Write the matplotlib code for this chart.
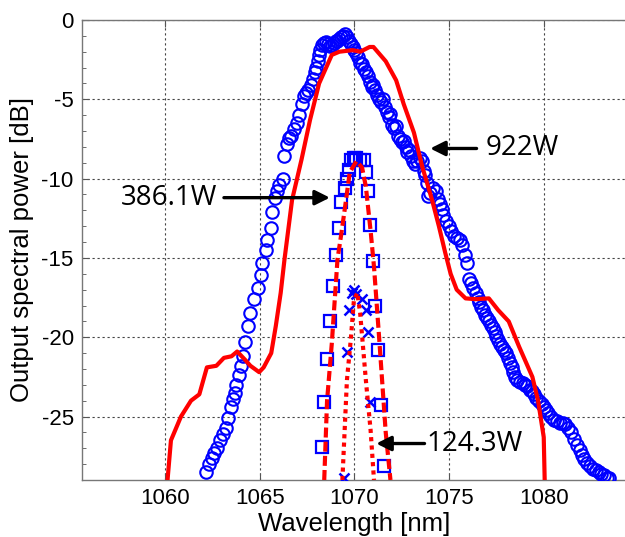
import matplotlib
matplotlib.use("Agg")
import matplotlib.pyplot as plt
from matplotlib.ticker import MultipleLocator

plt.rcParams["axes.unicode_minus"] = False

# ---------------- data ----------------
# 922W measured spectrum (circles)
w922_meas = [1062.15, 1062.3, 1062.45, 1062.6, 1062.75, 1062.9, 1063.05, 1063.2, 1063.34, 1063.47,
             1063.58, 1063.66, 1063.76, 1063.9, 1064.0, 1064.12, 1064.2, 1064.35, 1064.5, 1064.7,
             1064.9, 1065.05, 1065.13, 1065.3, 1065.4, 1065.58, 1065.66, 1065.8, 1065.9, 1066.0,
             1066.2, 1066.3, 1066.45, 1066.55, 1066.65, 1066.8, 1066.95, 1067.07, 1067.24, 1067.35,
             1067.45, 1067.55, 1067.7, 1067.8, 1067.9, 1067.97, 1068.05, 1068.15, 1068.2, 1068.3,
             1068.4, 1068.5, 1068.6, 1068.7, 1068.8, 1068.9, 1069.0, 1069.1, 1069.2, 1069.3,
             1069.4, 1069.5, 1069.6, 1069.7, 1069.8, 1069.9, 1070.0, 1070.1, 1070.2, 1070.3,
             1070.4, 1070.5, 1070.6, 1070.7, 1070.8, 1070.9, 1071.0, 1071.1, 1071.2, 1071.3,
             1071.4, 1071.5, 1071.6, 1071.7, 1071.8, 1071.9, 1072.0, 1072.1, 1072.2, 1072.3,
             1072.4, 1072.5, 1072.6, 1072.7, 1072.8, 1072.9, 1073.0, 1073.1, 1073.2, 1073.3,
             1073.45, 1073.55, 1073.65, 1073.75, 1073.85, 1073.9, 1074.0, 1074.15, 1074.3, 1074.4,
             1074.5, 1074.6, 1074.7, 1074.85, 1075.0, 1075.1, 1075.25, 1075.4, 1075.55, 1075.7,
             1075.85, 1075.96, 1076.05, 1076.15, 1076.25, 1076.4, 1076.5, 1076.6, 1076.7, 1076.8,
             1076.9, 1077.0, 1077.1, 1077.2, 1077.3, 1077.4, 1077.5, 1077.6, 1077.7, 1077.8,
             1077.9, 1078.0, 1078.1, 1078.2, 1078.3, 1078.4, 1078.5, 1078.6, 1078.75, 1078.9,
             1079.0, 1079.1, 1079.25, 1079.4, 1079.5, 1079.6, 1079.75, 1079.9, 1080.0, 1080.1,
             1080.25, 1080.4, 1080.55, 1080.7, 1080.85, 1081.0, 1081.15, 1081.3, 1081.45, 1081.6,
             1081.75, 1081.9, 1082.0, 1082.15, 1082.3, 1082.45, 1082.6, 1082.75, 1082.9, 1083.05,
             1083.2, 1083.35, 1083.45]
p922_meas = [-28.5, -28.0, -27.6, -27.3, -27.0, -26.5, -26.1, -25.7, -25.1, -24.4,
             -23.9, -23.5, -23.0, -22.4, -21.8, -21.2, -20.3, -19.3, -18.5, -17.6,
             -16.9, -16.1, -15.3, -14.5, -13.9, -13.1, -12.1, -11.2, -10.8, -10.4,
             -10.0, -8.6, -7.8, -7.45, -7.3, -6.9, -6.5, -6.0, -5.3, -4.8,
             -4.6, -4.4, -4.1, -3.75, -3.3, -3.0, -2.6, -2.2, -1.9, -1.6,
             -1.45, -1.4, -1.5, -1.65, -1.6, -1.45, -1.35, -1.3, -1.2, -1.1,
             -1.0, -0.9, -1.1, -1.35, -1.5, -1.7, -1.9, -2.1, -2.35, -2.7,
             -2.8, -3.1, -3.3, -3.5, -3.9, -4.2, -4.1, -4.4, -4.7, -5.0,
             -5.2, -5.0, -5.5, -5.8, -6.1, -5.9, -6.6, -6.8, -6.7, -7.3,
             -7.5, -7.7, -7.6, -8.0, -8.3, -8.2, -8.6, -8.9, -9.1, -8.9,
             -8.7, -8.9, -9.5, -9.8, -10.3, -11.1, -10.9, -10.6, -10.8, -11.3,
             -11.6, -11.9, -12.3, -12.7, -13.0, -13.3, -13.6, -13.75, -13.9, -14.2,
             -14.8, -15.3, -16.3, -16.6, -16.9, -17.2, -17.5, -17.8, -18.1, -18.3,
             -18.6, -18.8, -19.0, -19.2, -19.4, -19.7, -19.9, -20.2, -20.4, -20.6,
             -20.8, -21.0, -21.3, -21.6, -21.9, -22.2, -22.5, -22.7, -22.8, -22.9,
             -23.0, -23.1, -23.3, -23.4, -23.6, -23.8, -24.0, -24.2, -24.4, -24.6,
             -24.8, -25.0, -25.2, -25.3, -25.4, -25.4, -25.5, -25.7, -26.0, -26.4,
             -26.8, -27.1, -27.4, -27.7, -27.9, -28.1, -28.3, -28.4, -28.5, -28.6,
             -28.7, -28.85, -28.9]

# 922W simulated spectrum (solid red)
w922_sim = [1060.12, 1060.3, 1060.83, 1061.36, 1061.8, 1062.2, 1062.7, 1063.1, 1063.5, 1063.8,
            1064.2, 1064.5, 1064.96, 1065.2, 1065.6, 1065.84, 1066.1, 1066.3, 1066.7, 1067.2,
            1067.65, 1068.13, 1068.8, 1069.2, 1069.9, 1070.3, 1070.8, 1071.0, 1071.65, 1072.2,
            1072.6, 1073.14, 1073.58, 1074.1, 1074.46, 1074.8, 1075.08, 1075.4, 1075.87, 1076.4,
            1077.1, 1077.6, 1078.15, 1078.7, 1079.4, 1079.7, 1080.0, 1080.05]
p922_sim = [-29.0, -26.5, -25.0, -24.0, -23.6, -21.9, -21.8, -21.3, -21.2, -20.9,
            -21.4, -21.8, -22.2, -21.9, -21.0, -19.3, -17.2, -15.1, -11.35, -8.8,
            -6.3, -4.0, -2.2, -2.0, -1.9, -2.0, -1.7, -1.7, -2.6, -3.8,
            -5.3, -7.1, -9.25, -11.35, -13.0, -14.7, -16.0, -17.0, -17.55, -17.6,
            -17.55, -18.3, -19.0, -20.6, -22.5, -24.0, -26.3, -29.0]

# 386.1W measured (squares)
w386_meas = [1068.3, 1068.4, 1068.56, 1068.7, 1068.87, 1069.0, 1069.2, 1069.3, 1069.5, 1069.6,
             1069.7, 1069.8, 1070.0, 1070.1, 1070.3, 1070.5, 1070.6, 1070.7, 1070.8, 1071.0,
             1071.1, 1071.26, 1071.4, 1071.56]
p386_meas = [-26.9, -24.1, -21.4, -19.0, -16.8, -14.8, -13.1, -11.5, -10.6, -10.05,
             -9.46, -8.8, -8.7, -8.7, -8.8, -8.8, -9.56, -10.8, -12.9, -15.2,
             -18.0, -20.8, -24.3, -28.1]

# 386.1W simulated (dashed red)
w386_sim = [1068.4, 1068.55, 1068.8, 1069.1, 1069.3, 1069.5, 1069.75, 1070.1, 1070.4, 1070.6,
            1070.86, 1071.03, 1071.3, 1071.65, 1071.9]
p386_sim = [-29.0, -24.0, -20.4, -15.1, -13.5, -11.8, -9.6, -8.9, -9.3, -10.5,
            -13.4, -15.55, -20.0, -26.0, -29.0]

# 124.3W measured (crosses)
w124_meas = [1069.45, 1069.6, 1069.7, 1069.85, 1069.95, 1070.1, 1070.4, 1070.6, 1070.7, 1070.8]
p124_meas = [-28.9, -20.9, -18.3, -17.2, -17.05, -17.3, -17.6, -18.3, -19.65, -24.1]

# 124.3W simulated (dotted red)
w124_sim = [1069.36, 1069.6, 1069.8, 1069.97, 1070.15, 1070.3, 1070.6, 1070.85, 1071.03]
p124_sim = [-29.0, -22.7, -20.2, -17.65, -17.2, -18.5, -22.7, -25.85, -29.0]

x_ticks = [1060, 1065, 1070, 1075, 1080]
y_ticks = [0, -5, -10, -15, -20, -25]

# annotation labels: text, text anchor, arrow tail, arrow head
ann_labels = ["922W", "386.1W", "124.3W"]
ann_text_xy = [(1076.95, -8.1), (1062.75, -11.2), (1073.8, -26.7)]
ann_text_ha = ["left", "right", "left"]
ann_tail = [(1076.45, -8.1), (1063.1, -11.2), (1073.7, -26.7)]
ann_head = [(1074.0, -8.1), (1068.7, -11.2), (1071.15, -26.7)]

# ---------------- figure ----------------
fig = plt.figure(figsize=(6.25, 5.37), dpi=100)
ax = fig.add_axes([82 / 625, 1 - 480 / 537, 545 / 625, 460 / 537])

blue = "#0000ff"
red = "#ff0000"

ax.plot(w922_meas, p922_meas, linestyle="none", marker="o", markersize=9,
        markerfacecolor="none", markeredgecolor=blue, markeredgewidth=1.5, zorder=3)
ax.plot(w386_meas, p386_meas, linestyle="none", marker="s", markersize=8.8,
        markerfacecolor="none", markeredgecolor=blue, markeredgewidth=1.6, zorder=3)
ax.plot(w124_meas, p124_meas, linestyle="none", marker="x", markersize=7.5,
        markeredgecolor=blue, markeredgewidth=1.8, zorder=3)

ax.plot(w922_sim, p922_sim, color=red, lw=3, solid_joinstyle="round", zorder=4)
ax.plot(w386_sim, p386_sim, color=red, lw=3, linestyle=(0, (2.4, 1.0)), zorder=4)
ax.plot(w124_sim, p124_sim, color=red, lw=3, linestyle=(0, (1.0, 1.0)), zorder=4)

ax.set_xlim(1055.6, 1084.4)
ax.set_ylim(-29, 0)
ax.set_xticks(x_ticks)
ax.set_yticks(y_ticks)
ax.yaxis.set_minor_locator(MultipleLocator(1))

ax.grid(True, which="major", color="#444444", linestyle=(0, (2, 2.5)), lw=0.8)
for s in ax.spines.values():
    s.set_color("#777777")
    s.set_linewidth(1.0)

ax.tick_params(which="both", direction="in", color="#555555", top=True, right=False)
ax.tick_params(which="major", length=5, labelsize=16, pad=6)
ax.tick_params(which="minor", length=3)
for lab in ax.get_xticklabels() + ax.get_yticklabels():
    lab.set_fontfamily("Liberation Sans")

ax.set_xlabel("Wavelength [nm]", fontsize=18.5, family="Liberation Sans", labelpad=2)
ax.set_ylabel("Output spectral power [dB]", fontsize=18.5, family="Liberation Sans", labelpad=5)

for lab, txy, ha, tail, head in zip(ann_labels, ann_text_xy, ann_text_ha, ann_tail, ann_head):
    ax.annotate("", xy=head, xytext=tail,
                arrowprops=dict(arrowstyle="-|>", color="black", lw=2.4,
                                mutation_scale=22, shrinkA=0, shrinkB=0), zorder=6)
    ax.text(txy[0], txy[1], lab, ha=ha, va="center", fontsize=20,
            family="Open Sans", color="black", zorder=6)

fig.savefig("out.png", dpi=100)
